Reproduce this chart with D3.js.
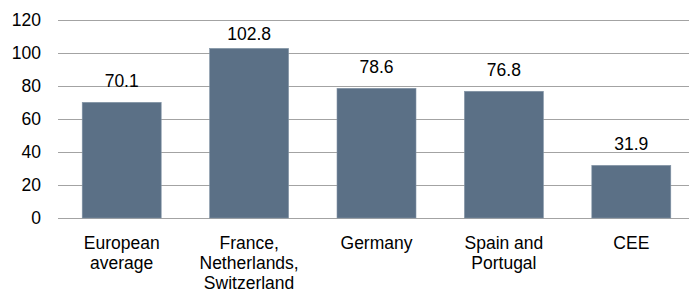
<!DOCTYPE html>
<html>
<head>
<meta charset="utf-8">
<script src="https://cdn.jsdelivr.net/npm/d3@7"></script>
<style>
  body { margin: 0; background: #fff; }
  text { font-family: "Liberation Sans", Arial, sans-serif; fill: #000; }
</style>
</head>
<body>
<div id="chart"></div>
<script>
// chart data
var categories = [
    ["European", "average"],
    ["France,", "Netherlands,", "Switzerland"],
    ["Germany"],
    ["Spain and", "Portugal"],
    ["CEE"]
];
var values = [70.1, 102.8, 78.6, 76.8, 31.9];
var yTicks = [0, 20, 40, 60, 80, 100, 120];

var width = 689,
    height = 290;

var svg = d3.select("#chart").append("svg")
    .attr("width", width)
    .attr("height", height);

var x = d3.scaleBand()
    .domain(d3.range(values.length))
    .range([58, 695])
    .paddingInner(0.38)
    .paddingOuter(0.19);

var y = d3.scaleLinear()
    .domain([0, 120])
    .range([218, 20]);

// gridlines
svg.append("g").selectAll("line")
    .data(yTicks)
    .enter().append("line")
    .attr("x1", 58)
    .attr("x2", width)
    .attr("y1", function (d) { return Math.round(y(d)) + 0.5; })
    .attr("y2", function (d) { return Math.round(y(d)) + 0.5; })
    .attr("stroke", "#a3a3a3")
    .attr("stroke-width", 1.2);

// y axis labels
svg.append("g").selectAll("text")
    .data(yTicks)
    .enter().append("text")
    .attr("x", 41)
    .attr("y", function (d) { return y(d); })
    .attr("dy", "0.36em")
    .attr("text-anchor", "end")
    .style("font-size", "17.5px")
    .text(function (d) { return d; });

// bars
svg.append("g").selectAll("rect")
    .data(values)
    .enter().append("rect")
    .attr("x", function (d, i) { return x(i); })
    .attr("y", function (d) { return y(d); })
    .attr("width", x.bandwidth())
    .attr("height", function (d) { return y(0) - y(d); })
    .attr("fill", "#5b7086")
    .attr("stroke", "#8395a6")
    .attr("stroke-width", 0.6);

// value labels
svg.append("g").selectAll("text")
    .data(values)
    .enter().append("text")
    .attr("x", function (d, i) { return x(i) + x.bandwidth() / 2; })
    .attr("y", function (d) { return Math.max(y(d) - 15.5, y(108)); })
    .attr("text-anchor", "middle")
    .style("font-size", "17.5px")
    .text(function (d) { return d3.format(".1f")(d); });

// category labels
var cat = svg.append("g").selectAll("text")
    .data(categories)
    .enter().append("text")
    .attr("text-anchor", "middle")
    .attr("transform", function (d, i) {
        return "translate(" + (x(i) + x.bandwidth() / 2) + ",249)";
    })
    .style("font-size", "17.5px");

cat.selectAll("tspan")
    .data(function (d) { return d; })
    .enter().append("tspan")
    .attr("x", 0)
    .attr("y", function (d, i) { return i * 20; })
    .text(function (d) { return d; });
</script>
</body>
</html>
